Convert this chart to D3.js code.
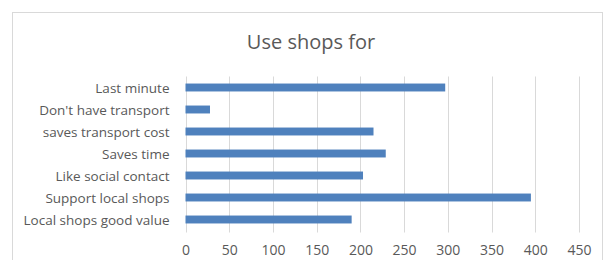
<!DOCTYPE html>
<html>
<head>
<meta charset="utf-8">
<script src="https://cdn.jsdelivr.net/npm/d3@7"></script>
<style>
  body { margin: 0; background: #fff; }
  text { font-family: "Open Sans", "Noto Sans", sans-serif; fill: #595959; }
</style>
</head>
<body>
<div id="chart"></div>
<script>
const categories = [
  "Last minute",
  "Don't have transport",
  "saves transport cost",
  "Saves time",
  "Like social contact",
  "Support local shops",
  "Local shops good value"
];
const values = [297, 28, 215, 229, 203, 395, 190];
const xTicks = [0, 50, 100, 150, 200, 250, 300, 350, 400, 450];

const width = 613, height = 260;
const margin = { top: 76.5, left: 185.5, right: 34, bottom: 29.5 };

const svg = d3.select("#chart").append("svg")
  .attr("width", width)
  .attr("height", height);

// chart frame
svg.append("rect")
  .attr("x", 12.5).attr("y", 12.5)
  .attr("width", 590).attr("height", 260)
  .attr("fill", "#fff")
  .attr("stroke", "#d9d9d9");

svg.append("text")
  .attr("x", 311).attr("y", 49)
  .attr("text-anchor", "middle")
  .style("font-size", "20px")
  .text("Use shops for");

const x = d3.scaleLinear()
  .domain([0, 450])
  .range([margin.left, width - margin.right]);

const y = d3.scaleBand()
  .domain(categories)
  .range([margin.top, height - margin.bottom])
  .paddingInner(0.64)
  .paddingOuter(0.32);

// gridlines
svg.append("g")
  .selectAll("line")
  .data(xTicks)
  .join("line")
  .attr("x1", d => Math.round(x(d)) + 0.5)
  .attr("x2", d => Math.round(x(d)) + 0.5)
  .attr("y1", margin.top)
  .attr("y2", height - margin.bottom + 2)
  .attr("stroke", "#d9d9d9");

svg.append("g")
  .selectAll("rect")
  .data(values)
  .join("rect")
  .attr("x", x(0))
  .attr("y", (d, i) => y(categories[i]))
  .attr("width", d => x(d) - x(0))
  .attr("height", y.bandwidth())
  .attr("fill", "#4f81bd");

// category axis
const yAxis = svg.append("g")
  .attr("transform", `translate(${x(0)},0)`)
  .call(d3.axisLeft(y).tickSize(0).tickPadding(16));
yAxis.select(".domain").remove();
yAxis.selectAll("text").style("font-size", "13.5px").attr("fill", "#595959").attr("dy", "0.4em");

// value axis
const xAxis = svg.append("g")
  .attr("transform", `translate(0,${height - margin.bottom + 2})`)
  .call(d3.axisBottom(x).tickValues(xTicks).tickSize(0).tickPadding(13));
xAxis.select(".domain").remove();
xAxis.selectAll("text").style("font-size", "14px").attr("fill", "#595959");
</script>
</body>
</html>
